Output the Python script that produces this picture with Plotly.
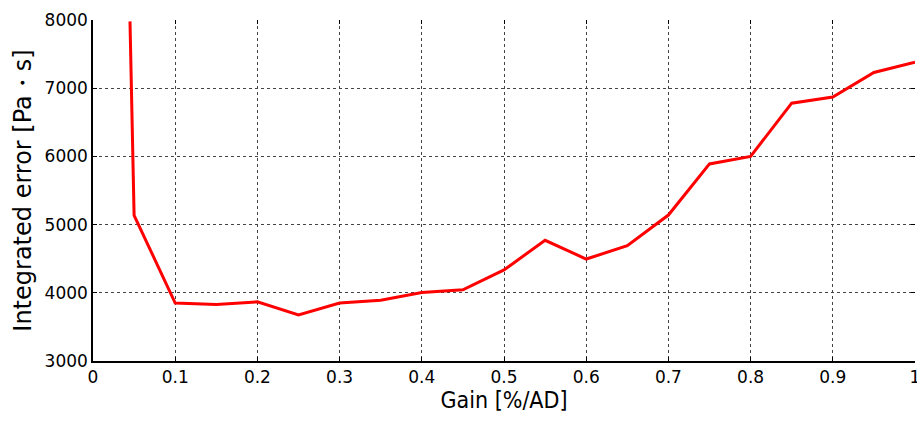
import plotly.graph_objects as go

# Controller gain sweep and the resulting integrated pressure error
gain = [0.045, 0.05, 0.10, 0.15, 0.20, 0.25, 0.30, 0.35, 0.40, 0.45, 0.50,
        0.55, 0.60, 0.65, 0.70, 0.75, 0.80, 0.85, 0.90, 0.95, 1.00]
integrated_error = [7980, 5136, 3850, 3830, 3868, 3674, 3850, 3890, 4005, 4045, 4335,
                    4770, 4495, 4690, 5140, 5890, 6000, 6780, 6870, 7230, 7382]

x_ticks = [0, 0.1, 0.2, 0.3, 0.4, 0.5, 0.6, 0.7, 0.8, 0.9, 1]
x_tick_text = ["0", "0.1", "0.2", "0.3", "0.4", "0.5", "0.6", "0.7", "0.8", "0.9", "1"]
y_ticks = [3000, 4000, 5000, 6000, 7000, 8000]

tick_font = dict(family="DejaVu Sans", size=17, color="black")

fig = go.Figure()
fig.add_trace(go.Scatter(
    x=gain, y=integrated_error, mode="lines",
    line=dict(color="#ff0000", width=3),
    showlegend=False, hoverinfo="x+y",
))
# invisible trace to carry the mirrored top/right tick marks
fig.add_trace(go.Scatter(x=[0], y=[3000], xaxis="x2", yaxis="y2",
                         mode="markers", marker=dict(opacity=0),
                         showlegend=False, hoverinfo="skip"))

grid = dict(showgrid=True, gridcolor="#444444", gridwidth=1, griddash="dot")

fig.update_layout(
    width=917, height=423,
    margin=dict(l=93, r=2, t=20, b=62, autoexpand=False),
    paper_bgcolor="white", plot_bgcolor="white",
    xaxis=dict(
        range=[0, 1], tickvals=x_ticks, ticktext=x_tick_text,
        ticks="inside", ticklen=4, tickcolor="black", tickwidth=1,
        showline=True, linecolor="black", linewidth=1.5, automargin=False,
        zeroline=False, tickfont=tick_font, ticklabeloverflow="allow",
        title=dict(text="Gain [%/AD]", standoff=6,
                   font=dict(family="DejaVu Sans Condensed", size=23, color="black")),
        **grid,
    ),
    yaxis=dict(
        range=[3000, 8000], tickvals=y_ticks,
        ticks="inside", ticklen=4, tickcolor="black", tickwidth=1,
        showline=True, linecolor="black", linewidth=1.5, automargin=False,
        zeroline=False, tickfont=tick_font,
        title=dict(text="Integrated error [Pa・s]", standoff=6,
                   font=dict(family="DejaVu Sans", size=24, color="black")),
        **grid,
    ),
    xaxis2=dict(
        overlaying="x", side="top", range=[0, 1], tickvals=x_ticks,
        ticks="inside", ticklen=4, tickcolor="black", automargin=False,
        showticklabels=False, showgrid=False, zeroline=False, showline=False,
    ),
    yaxis2=dict(
        overlaying="y", side="right", range=[3000, 8000], tickvals=y_ticks,
        ticks="inside", ticklen=4, tickcolor="black", automargin=False,
        showticklabels=False, showgrid=False, zeroline=False, showline=False,
    ),
)

fig.write_html("out.html")
